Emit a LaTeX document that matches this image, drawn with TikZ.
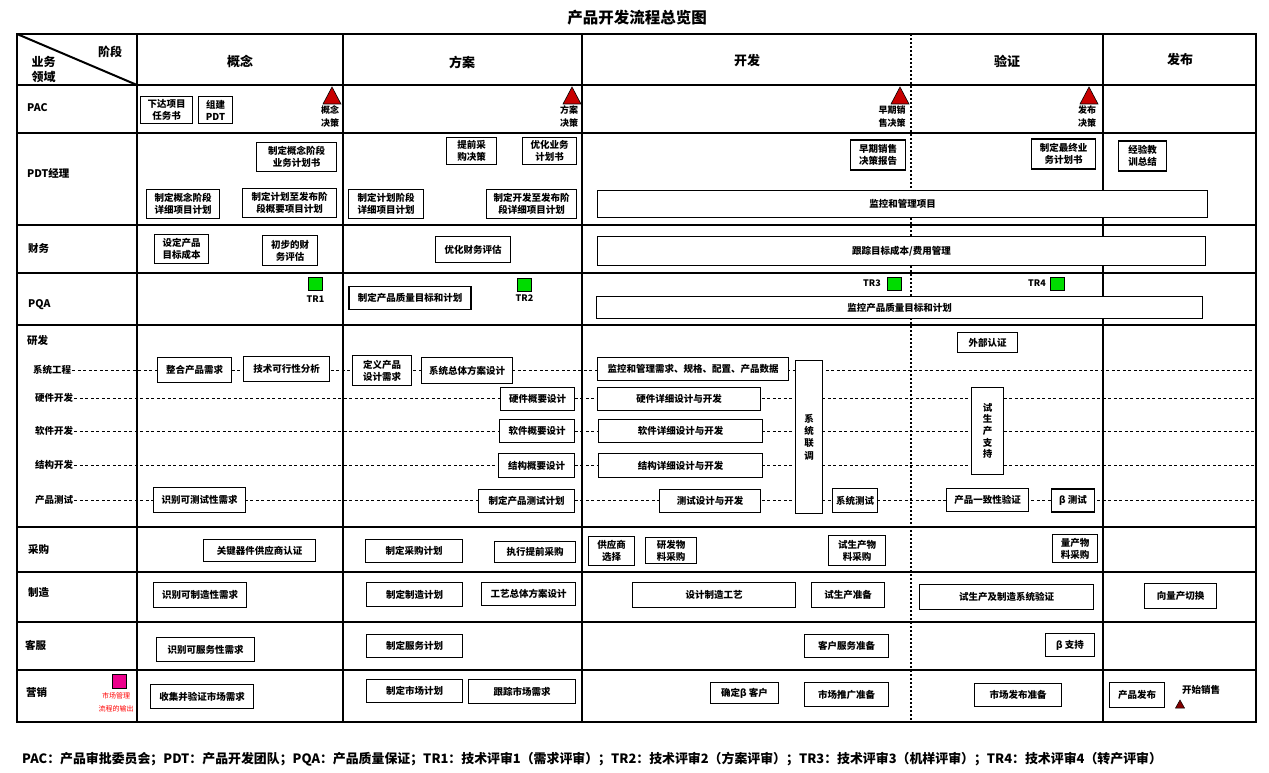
\documentclass[tikz,border=0pt]{standalone}
\usepackage{fontspec}
\setmainfont{Noto Sans CJK SC}
\usetikzlibrary{calc}

\tikzset{
	grid/.style={line width=2pt},
	box/.style={draw, line width=1.9pt, fill=white, inner sep=1pt, align=center, font=\bfseries\fontsize{9.5}{12}\selectfont},
	lane/.style={line width=0.8pt, dash pattern=on 3pt off 2.5pt},
	rowlbl/.style={anchor=west, inner sep=0pt, font=\bfseries\fontsize{10.5}{12}\selectfont},
	sublbl/.style={anchor=west, inner sep=1pt, font=\bfseries\fontsize{9.5}{12}\selectfont},
	phase/.style={font=\bfseries\fontsize{13}{14}\selectfont},
	decision/.style={fill={rgb,255:red,200;green,0;blue,0}, draw=black, line width=0.6pt},
	declbl/.style={align=right, inner sep=0pt, font=\bfseries\fontsize{9}{13}\selectfont},
	trsq/.style={fill={rgb,255:red,0;green,220;blue,0}, draw=black, line width=0.6pt, minimum width=14, minimum height=13, inner sep=0pt},
	trlbl/.style={inner sep=0pt, font=\bfseries\fontsize{9}{10}\selectfont},
}

\begin{document}
\begin{tikzpicture}[x=1pt, y=-1pt]
	\useasboundingbox (0,0) rectangle (1269,773);

		%title
		\node[font=\bfseries\fontsize{15.5}{16}\selectfont] (title) at (637,18) {产品开发流程总览图};

		%table frame, rows and phase columns
		\draw[grid] (17,34) rectangle (1256,722);
		\foreach \y in {85,133,225,273,325,527,572,622,670}
			\draw[grid] (17,\y) -- (1256,\y);
		\foreach \x in {137,343,582,1103}
			\draw[grid] (\x,34) -- (\x,722);
		\draw[line width=2.2pt, dash pattern=on 2pt off 2pt] (911,34) -- (911,722);
		\draw[grid] (17,34) -- (137,85);

		%corner labels
		\node[font=\bfseries\fontsize{12}{14}\selectfont] (stage) at (110,52) {阶段};
		\node[font=\bfseries\fontsize{12}{15}\selectfont, align=left, anchor=west] (domain) at (28,69) {业务\\领域};

		%phase headers
		\node[phase] (phConcept) at (240,61) {概念};
		\node[phase] (phPlan) at (462,62) {方案};
		\node[phase] (phDev) at (747,61) {开发};
		\node[phase] (phVerify) at (1007,61) {验证};
		\node[phase] (phRelease) at (1180,60) {发布};

		%row labels
		\node[rowlbl] (rPac) at (27,108) {PAC};
		\node[rowlbl] (rPdt) at (27,173) {PDT经理};
		\node[rowlbl] (rFin) at (28,248) {财务};
		\node[rowlbl] (rPqa) at (28,305) {PQA};
		\node[rowlbl] (rRnd) at (27,341) {研发};
		\node[rowlbl] (rBuy) at (28,549) {采购};
		\node[rowlbl] (rMfg) at (28,593) {制造};
		\node[rowlbl] (rSvc) at (25,645) {客服};
		\node[rowlbl] (rMkt) at (26,692) {营销};

		%r&d sub lanes
		\node[sublbl] (lSys) at (32,370) {系统工程};
		\node[sublbl] (lHw) at (34,398) {硬件开发};
		\node[sublbl] (lSw) at (34,431) {软件开发};
		\node[sublbl] (lMech) at (34,465) {结构开发};
		\node[sublbl] (lTest) at (34,500) {产品测试};
		\coordinate (lSysR) at (1256,370);
		\coordinate (lHwR) at (1256,398);
		\coordinate (lSwR) at (1256,431);
		\coordinate (lMechR) at (1256,465);
		\coordinate (lTestR) at (1256,500);
		\draw[lane] (lSys.east) -- (lSysR);
		\draw[lane] (lHw.east) -- (lHwR);
		\draw[lane] (lSw.east) -- (lSwR);
		\draw[lane] (lMech.east) -- (lMechR);
		\draw[lane] (lTest.east) -- (lTestR);

		%PAC decisions
		\coordinate (dConcept) at (332,87);
		\coordinate (dPlan) at (572,87);
		\coordinate (dEarly) at (900,87);
		\coordinate (dRelease) at (1089,87);
		\filldraw[decision] (dConcept) -- ++(9,17) -- ++(-18,0) -- cycle;
		\filldraw[decision] (dPlan) -- ++(9,17) -- ++(-18,0) -- cycle;
		\filldraw[decision] (dEarly) -- ++(9,17) -- ++(-18,0) -- cycle;
		\filldraw[decision] (dRelease) -- ++(9,17) -- ++(-18,0) -- cycle;
		\node[declbl] (dConceptL) at (330,117) {概念\\决策};
		\node[declbl] (dPlanL) at (569,117) {方案\\决策};
		\node[declbl] (dEarlyL) at (892,117) {早期销\\售决策};
		\node[declbl] (dReleaseL) at (1087,117) {发布\\决策};

		%PAC tasks
		\node[box, minimum width=52, minimum height=27] (pacTask) at (166.5,110) {下达项目\\任务书};
		\node[box, minimum width=34, minimum height=27] (pacTeam) at (215.5,110) {组建\\PDT};

		%PDT manager tasks
		\node[box, minimum width=80, minimum height=29] (pdtBiz) at (296.5,157) {制定概念阶段\\业务计划书};
		\node[box, minimum width=73, minimum height=29] (pdtConcept) at (183,204) {制定概念阶段\\详细项目计划};
		\node[box, minimum width=94, minimum height=29] (pdtOutline) at (289.5,203) {制定计划至发布阶\\段概要项目计划};
		\node[box, minimum width=75, minimum height=29] (pdtPlan) at (386,204) {制定计划阶段\\详细项目计划};
		\node[box, minimum width=50, minimum height=27] (pdtEarlyBuy) at (471.5,151) {提前采\\购决策};
		\node[box, minimum width=54, minimum height=27] (pdtOptBiz) at (549.5,151) {优化业务\\计划书};
		\node[box, minimum width=90, minimum height=29] (pdtDevPlan) at (531.5,204) {制定开发至发布阶\\段详细项目计划};
		\node[box, minimum width=55, minimum height=30] (pdtEarlyRep) at (878,155) {早期销售\\决策报告};
		\node[box, minimum width=64, minimum height=30] (pdtFinalBiz) at (1063.5,154) {制定最终业\\务计划书};
		\node[box, minimum width=48, minimum height=30] (pdtLesson) at (1142.5,156) {经验教\\训总结};
		\node[box, minimum width=610, minimum height=27] (pdtMonitor) at (902.5,204) {监控和管理项目};

		%finance tasks
		\node[box, minimum width=54, minimum height=29] (finCost) at (181.5,249) {设定产品\\目标成本};
		\node[box, minimum width=55, minimum height=30] (finEval) at (290,250.5) {初步的财\\务评估};
		\node[box, minimum width=75, minimum height=26] (finOpt) at (473,249.5) {优化财务评估};
		\node[box, minimum width=608, minimum height=29] (finTrack) at (901.5,251) {跟踪目标成本/费用管理};

		%PQA tasks and technical reviews
		\node[trsq] (tr1) at (315.5,284) {};
		\node[trlbl] (tr1L) at (315.5,299) {TR1};
		\node[trsq] (tr2) at (524.5,284.5) {};
		\node[trlbl] (tr2L) at (524.5,298) {TR2};
		\node[trsq] (tr3) at (894,284) {};
		\node[trlbl, anchor=east] (tr3L) at (881,283) {TR3};
		\node[trsq] (tr4) at (1057.5,284) {};
		\node[trlbl, anchor=east] (tr4L) at (1046,283) {TR4};
		\node[box, minimum width=122, minimum height=23] (pqaPlan) at (410,298) {制定产品质量目标和计划};
		\node[box, minimum width=606, minimum height=22] (pqaMonitor) at (899.5,307.5) {监控产品质量目标和计划};

		%r&d: system engineering
		\node[box, minimum width=74, minimum height=25] (sysReq) at (194.5,370) {整合产品需求};
		\node[box, minimum width=86, minimum height=25] (sysFeas) at (286.5,369) {技术可行性分析};
		\node[box, minimum width=59, minimum height=30] (sysDef) at (382,370.5) {定义产品\\设计需求};
		\node[box, minimum width=91, minimum height=26] (sysArch) at (467,370.5) {系统总体方案设计};
		\node[box, minimum width=191, minimum height=23] (sysData) at (693,369) {监控和管理需求、规格、配置、产品数据};
		\node[box, minimum width=27, minimum height=153, font=\bfseries\fontsize{9.5}{12.3}\selectfont] (sysInt) at (809,437) {系\\统\\联\\调};

		%r&d: hardware, software, mechanics
		\node[box, minimum width=74, minimum height=23] (hwHigh) at (537.5,399) {硬件概要设计};
		\node[box, minimum width=163, minimum height=23] (hwDet) at (679,399) {硬件详细设计与开发};
		\node[box, minimum width=75, minimum height=23] (swHigh) at (537,431) {软件概要设计};
		\node[box, minimum width=164, minimum height=23] (swDet) at (680.5,431) {软件详细设计与开发};
		\node[box, minimum width=76, minimum height=24] (mechHigh) at (536.5,465.5) {结构概要设计};
		\node[box, minimum width=164, minimum height=24] (mechDet) at (680.5,465.5) {结构详细设计与开发};

		%r&d: product test
		\node[box, minimum width=92, minimum height=25] (tstReq) at (199.5,500) {识别可测试性需求};
		\node[box, minimum width=96, minimum height=23] (tstPlan) at (526.5,501) {制定产品测试计划};
		\node[box, minimum width=101, minimum height=23] (tstDev) at (710,501) {测试设计与开发};
		\node[box, minimum width=45, minimum height=24] (tstSys) at (855,500.5) {系统测试};
		\node[box, minimum width=82, minimum height=23] (tstConf) at (987.5,500) {产品一致性验证};
		\node[box, minimum width=43, minimum height=23] (tstBeta) at (1073,500.5) {β 测试};
		\node[box, minimum width=60, minimum height=20] (tstCert) at (987.5,342.5) {外部认证};
		\node[box, minimum width=32, minimum height=87, font=\bfseries\fontsize{9.5}{11.7}\selectfont] (tstPilot) at (987.5,431) {试\\生\\产\\支\\持};

		%purchasing
		\node[box, minimum width=112, minimum height=22] (buyKey) at (259.5,550.5) {关键器件供应商认证};
		\node[box, minimum width=97, minimum height=23] (buyPlan) at (414,551) {制定采购计划};
		\node[box, minimum width=81, minimum height=21] (buyEarly) at (535,552) {执行提前采购};
		\node[box, minimum width=46, minimum height=29] (buySup) at (611.5,551) {供应商\\选择};
		\node[box, minimum width=51, minimum height=26] (buyRnd) at (671,550.5) {研发物\\料采购};
		\node[box, minimum width=57, minimum height=30] (buyPilot) at (857,550.5) {试生产物\\料采购};
		\node[box, minimum width=45, minimum height=28] (buyMass) at (1075,548.5) {量产物\\料采购};

		%manufacturing
		\node[box, minimum width=93, minimum height=25] (mfgReq) at (200,595) {识别可制造性需求};
		\node[box, minimum width=96, minimum height=24] (mfgPlan) at (414.5,594.5) {制定制造计划};
		\node[box, minimum width=94, minimum height=23] (mfgArch) at (528.5,594) {工艺总体方案设计};
		\node[box, minimum width=163, minimum height=25] (mfgProc) at (714,595) {设计制造工艺};
		\node[box, minimum width=73, minimum height=25] (mfgPrep) at (848,595) {试生产准备};
		\node[box, minimum width=174, minimum height=25] (mfgPilot) at (1006.5,597) {试生产及制造系统验证};
		\node[box, minimum width=72, minimum height=25] (mfgMass) at (1180.5,596) {向量产切换};

		%customer service
		\node[box, minimum width=98, minimum height=24] (svcReq) at (205.5,649.5) {识别可服务性需求};
		\node[box, minimum width=96, minimum height=23] (svcPlan) at (414.5,646) {制定服务计划};
		\node[box, minimum width=84, minimum height=23] (svcPrep) at (846.5,646) {客户服务准备};
		\node[box, minimum width=49, minimum height=23] (svcBeta) at (1070,645) {β 支持};

		%marketing
		\node[fill=magenta, draw=black, line width=0.6pt, minimum size=14, inner sep=0pt] (mktSq) at (119,681) {};
		\node[text=red, align=center, inner sep=0pt, font=\fontsize{7}{12.5}\selectfont] (mktOut) at (116,702.5) {市场管理\\流程的输出};
		\node[box, minimum width=103, minimum height=24] (mktReq) at (202,696.5) {收集并验证市场需求};
		\node[box, minimum width=96, minimum height=23] (mktPlan) at (414.5,691) {制定市场计划};
		\node[box, minimum width=107, minimum height=24] (mktTrack) at (522,691.5) {跟踪市场需求};
		\node[box, minimum width=68, minimum height=21] (mktBeta) at (744.5,693) {确定β 客户};
		\node[box, minimum width=84, minimum height=24] (mktProm) at (846.5,694.5) {市场推广准备};
		\node[box, minimum width=87, minimum height=23] (mktLaunch) at (1018,695) {市场发布准备};
		\node[box, minimum width=55, minimum height=25] (mktRel) at (1137,695) {产品发布};
		\coordinate (sale) at (1180,700);
		\filldraw[fill={rgb,255:red,130;green,0;blue,0}, draw=black, line width=0.5pt] (sale) -- ++(4.5,8) -- ++(-9,0) -- cycle;
		\node[inner sep=0pt, font=\bfseries\fontsize{9.5}{11}\selectfont] (saleL) at (1201,690) {开始销售};

		%legend
		\node[anchor=west, inner sep=0pt, font=\bfseries\fontsize{12.9}{14}\selectfont] (legend) at (22,759) {PAC：产品审批委员会；PDT：产品开发团队；PQA：产品质量保证；TR1：技术评审1（需求评审）；TR2：技术评审2（方案评审）；TR3：技术评审3（机样评审）；TR4：技术评审4（转产评审）};

	\end{tikzpicture}
\end{document}
